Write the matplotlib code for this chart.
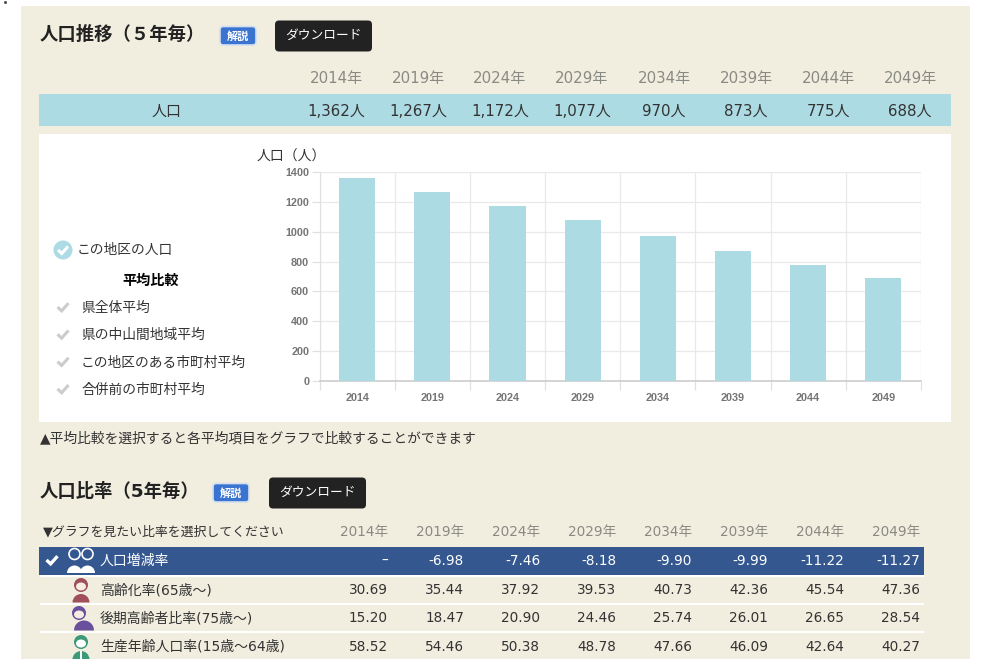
import matplotlib
matplotlib.use("Agg")
import matplotlib.pyplot as plt
from matplotlib.patches import Rectangle, FancyBboxPatch, Circle, Ellipse, Wedge

plt.rcParams['font.family'] = ['DejaVu Sans', 'Noto Sans CJK JP']

years = [2014, 2019, 2024, 2029, 2034, 2039, 2044, 2049]
population = [1362, 1267, 1172, 1077, 970, 873, 775, 688]
pop_labels = ["1,362人", "1,267人", "1,172人", "1,077人", "970人", "873人", "775人", "688人"]
yticks = [0, 200, 400, 600, 800, 1000, 1200, 1400]

legend_items = ["県全体平均", "県の中山間地域平均", "この地区のある市町村平均", "合併前の市町村平均"]

rate_names = ["人口増減率", "高齢化率(65歳～)", "後期高齢者比率(75歳～)", "生産年齢人口率(15歳～64歳)"]
rate_values = [
    ["–", "-6.98", "-7.46", "-8.18", "-9.90", "-9.99", "-11.22", "-11.27"],
    ["30.69", "35.44", "37.92", "39.53", "40.73", "42.36", "45.54", "47.36"],
    ["15.20", "18.47", "20.90", "24.46", "25.74", "26.01", "26.65", "28.54"],
    ["58.52", "54.46", "50.38", "48.78", "47.66", "46.09", "42.64", "40.27"],
]

W, H = 995, 659
BG = "#f1eddf"
BAR = "#addbe3"
DARK = "#222222"
TXT = "#333333"
GREY = "#8a8a84"
NAVY = "#34578f"

fig = plt.figure(figsize=(W / 100, H / 100), dpi=100, facecolor="white")

# page drawn in pixel coordinates
pg = fig.add_axes([0, 0, 1, 1])
pg.set_xlim(0, W)
pg.set_ylim(H, 0)
pg.axis("off")


def rect(x0, y0, x1, y1, color, z=1):
    pg.add_patch(Rectangle((x0, y0), x1 - x0, y1 - y0, fc=color, ec="none", zorder=z))


def label(x, y, s, size=10.8, color=TXT, ha="center", **kw):
    pg.text(x, y + 1, s, fontsize=size, color=color, ha=ha, va="center", zorder=5, **kw)


def check(x, y, s, color, lw):
    pg.plot([x - s, x - s * 0.25, x + s], [y, y + s * 0.7, y - s * 0.7],
            color=color, lw=lw, solid_capstyle="butt", solid_joinstyle="miter", zorder=5)


def buttons(x_help, x_dl, y):
    pg.add_patch(FancyBboxPatch((x_help, y - 9), 36, 18.5, boxstyle="round,pad=0,rounding_size=3",
                                fc="#3a73d0", ec="#d4e0f0", lw=1.2, zorder=3))
    label(x_help + 18, y, "解説", size=8, color="white", fontweight="bold")
    pg.add_patch(FancyBboxPatch((x_dl, y - 15), 97, 31, boxstyle="round,pad=0,rounding_size=4",
                                fc=DARK, ec="none", zorder=3))
    label(x_dl + 48.5, y - 1, "ダウンロード", size=9.2, color="white")


def person(x, y, color, dx=0, r=8.5, face="#f7ece2"):
    # y is the row centre, simple head and shoulders icon
    pg.add_patch(Wedge((x + dx, y + 13.5), r, 180, 360, fc=color, ec="none", zorder=4))
    pg.add_patch(Circle((x, y - 4), 7, fc=color, ec="none", zorder=4))
    pg.add_patch(Ellipse((x, y - 2.5), 10, 8, fc=face, ec="none", zorder=4))


rect(21, 6, 970, H, BG)
pg.plot([5], [2], marker="s", ms=1, color="#444444")

# first section
label(40, 34, "人口推移（５年毎）", size=13.2, color=DARK, ha="left", fontweight="bold")
buttons(220, 275, 35.5)
rect(39, 94, 951, 126, BAR)
label(167, 110, "人口")
for i, y in enumerate(years):
    xc = 336 + 82 * i
    label(xc, 77, f"{y}年", color=GREY)
    label(xc, 110, pop_labels[i])

# white chart panel and legend
rect(39, 134, 951, 422, "white")
pg.add_patch(Circle((63, 250), 9.5, fc=BAR, ec="none", zorder=4))
check(63, 250, 5, "white", 2.2)
label(77, 249, "この地区の人口", size=9.9, ha="left")
label(151, 280, "平均比較", size=10.2, color="black", fontweight="bold")
for i, name in enumerate(legend_items):
    yy = 307 + 27.3 * i
    check(63, yy, 5.5, "#cccccc", 2.2)
    label(81, yy, name, size=9.9, ha="left")
label(257, 156, "人口（人）", size=10, ha="left")
label(40, 437, "▲平均比較を選択すると各平均項目をグラフで比較することができます", size=9.9, ha="left")

# bar chart
left, right, top, bottom = 319.6, 921, 172, 381
ax = fig.add_axes([left / W, 1 - bottom / H, (right - left) / W, (bottom - top) / H])
ax.set_facecolor("none")
ax.bar(range(len(years)), population, width=0.48, color=BAR, zorder=3)
ax.set_xlim(-0.5, len(years) - 0.5)
ax.set_ylim(0, 1400)
ax.set_yticks(yticks)
ax.set_xticks([i - 0.5 for i in range(len(years) + 1)])
ax.set_xticklabels([])
ax.set_yticklabels(yticks, fontsize=7.8, color="#757575", family="Liberation Sans", fontweight="bold")
for i, y in enumerate(years):
    ax.annotate(str(y), (i, 0), xytext=(0, -17), textcoords="offset pixels",
                ha="center", va="center", fontsize=7.8, color="#757575",
                family="Liberation Sans", fontweight="bold", annotation_clip=False)
ax.grid(True, color="#e9e9e9", lw=0.9, zorder=0)
ax.tick_params(axis="x", length=6.5, color="#e0e0e0", width=0.9, labelbottom=False)
ax.tick_params(axis="y", length=6, color="#e0e0e0", width=0.9, pad=1.5)
for side in ("top", "right"):
    ax.spines[side].set_visible(False)
ax.spines["left"].set_color("#e0e0e0")
ax.spines["bottom"].set_color("#c8c8c8")
ax.spines["bottom"].set_linewidth(1.1)

# second section
label(40, 491, "人口比率（5年毎）", size=13.2, color=DARK, ha="left", fontweight="bold")
buttons(213, 269, 492.5)
label(43, 531, "▼グラフを見たい比率を選択してください", size=9.3, ha="left")
rect(39, 547, 924, 575, NAVY, 2)
for sep in (576, 604, 632):
    rect(40, sep - 1, 924, sep + 0.7, "white", 2)

row_y = [560, 589, 617, 646]
for i, y in enumerate(years):
    label(388 + 76 * i, 531, f"{y}年", ha="right", color=GREY, size=9.8)
for r, name in enumerate(rate_names):
    col = "white" if r == 0 else TXT
    label(100, row_y[r], name, size=10, color=col, ha="left")
    for i, val in enumerate(rate_values[r]):
        label(388 + 76 * i, row_y[r], val, size=9.8, color=col, ha="right")

# row icons
check(52, 560, 5.5, "white", 2.4)
for dx in (-6.5, 6.5):
    pg.add_patch(Wedge((81 + dx, 573), 7.5, 180, 360, fc="white", ec="none", zorder=4))
    pg.add_patch(Circle((81 + dx, 554), 5.5, fc=NAVY, ec="white", lw=1.2, zorder=4))
person(81, 589, "#a0505a")
person(79, 617, "#6a4f9c", dx=5, r=10)
person(81, 646, "#3c9a78", face="white")
rect(80, 651, 82, 659, "white", 4)

fig.savefig("out.png", dpi=100)
